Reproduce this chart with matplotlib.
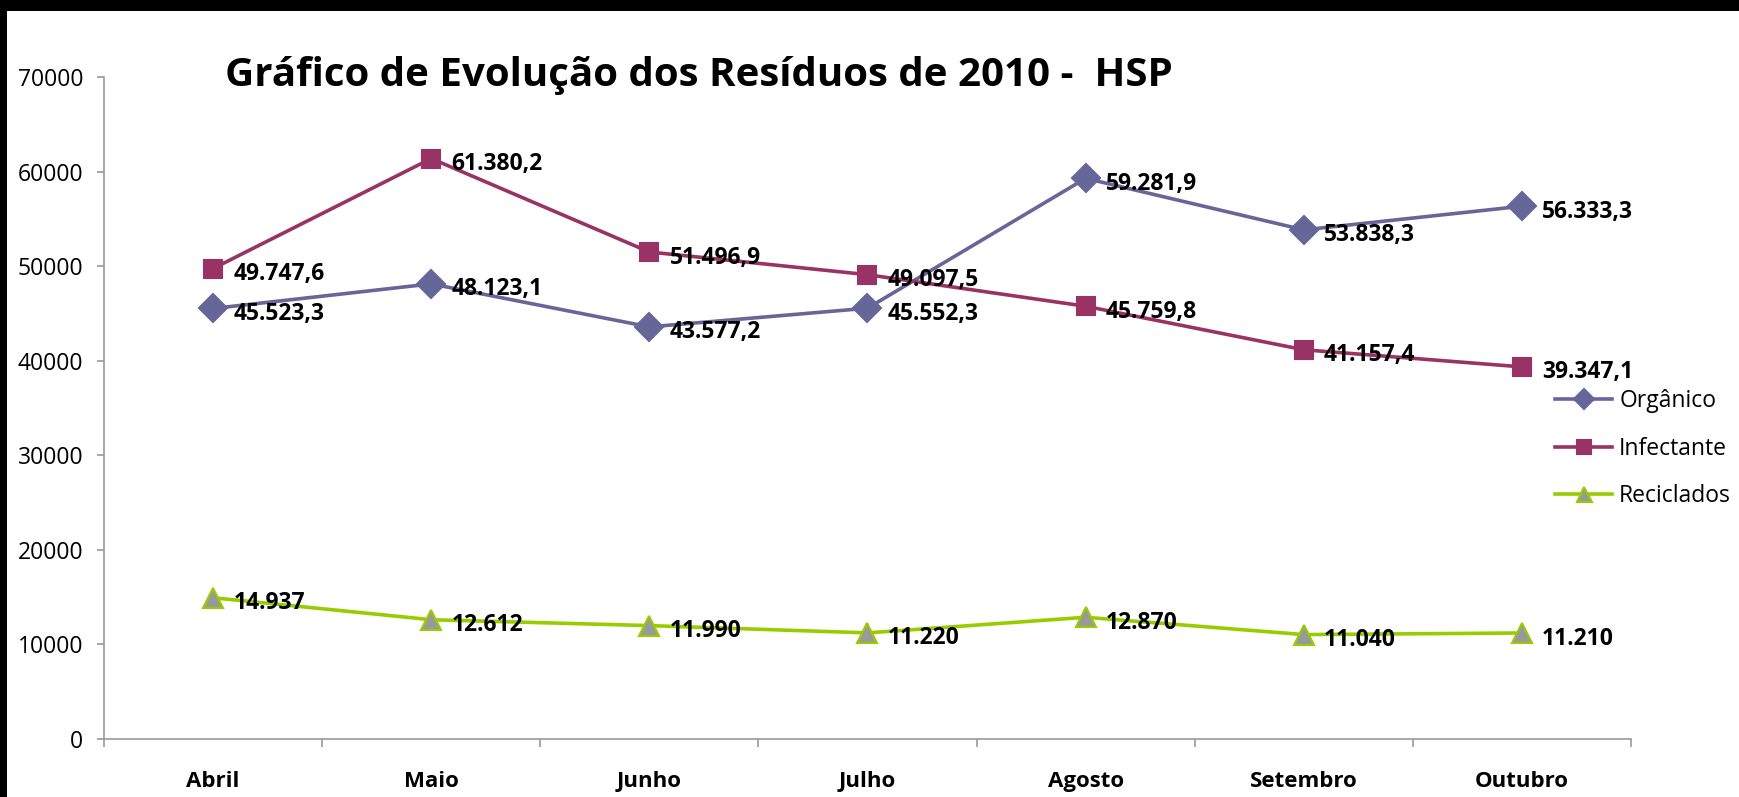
import matplotlib
matplotlib.use("Agg")
import matplotlib.pyplot as plt
from matplotlib.patches import Rectangle
from matplotlib.lines import Line2D

# ---- data ----
months = ["Abril", "Maio", "Junho", "Julho", "Agosto", "Setembro", "Outubro"]
organico = [45523.3, 48123.1, 43577.2, 45552.3, 59281.9, 53838.3, 56333.3]
infectante = [49747.6, 61380.2, 51496.9, 49097.5, 45759.8, 41157.4, 39347.1]
reciclados = [14937, 12612, 11990, 11220, 12870, 11040, 11210]
series_names = ["Orgânico", "Infectante", "Reciclados"]
yticks = [0, 10000, 20000, 30000, 40000, 50000, 60000, 70000]
title = "Gráfico de Evolução dos Resíduos de 2010 -  HSP"

FONT = "Open Sans"
plt.rcParams['font.family'] = [FONT, 'DejaVu Sans']

W, H = 1740, 797
fig = plt.figure(figsize=(W / 100, H / 100), dpi=100)
fig.patch.set_facecolor("white")

# black frame strips
fig.patches.append(Rectangle((0, 1 - 11 / H), 1, 11 / H, transform=fig.transFigure,
                             facecolor="black", edgecolor="none", zorder=0))
fig.patches.append(Rectangle((0, 0), 7 / W, 1, transform=fig.transFigure,
                             facecolor="black", edgecolor="none", zorder=0))

ax = fig.add_axes([104 / W, 1 - 739 / H, (1631 - 104) / W, (739 - 77) / H])
ax.set_facecolor("none")

x = list(range(len(months)))

def fmt(v, dec):
    s = f"{v:,.{dec}f}"
    return s.replace(",", "X").replace(".", ",").replace("X", ".")

styles = [
    dict(data=organico, color="#666699", marker="D", ms=14.5, mfc="#666699", mec="#666699", dec=1),
    dict(data=infectante, color="#993366", marker="s", ms=13.5, mfc="#993366", mec="#993366", dec=1),
    dict(data=reciclados, color="#99CC00", marker="^", ms=15, mfc="#999999", mec="#99CC00", dec=0),
]

handles = []
for name, st in zip(series_names, styles):
    ax.plot(x, st["data"], color=st["color"], lw=2.6, marker=st["marker"], ms=st["ms"],
            mfc=st["mfc"], mec=st["mec"], mew=1.5, zorder=3, clip_on=False)
    handles.append(Line2D([], [], color=st["color"], lw=2.6, marker=st["marker"],
                          ms=st["ms"] * 0.72, mfc=st["mfc"], mec=st["mec"], mew=1.5, label=name))
    for xi, v in zip(x, st["data"]):
        ax.annotate(fmt(v, st["dec"]), (xi, v), xytext=(14.5, -4), textcoords="offset points",
                    ha="left", va="center", fontsize=16.5, fontweight="bold", color="black",
                    zorder=4)

ax.set_xlim(-0.5, len(months) - 0.5)
ax.set_ylim(0, 70000)
ax.set_yticks(yticks)
ax.set_yticklabels([str(t) for t in yticks])

ax.set_xticks([i - 0.5 for i in range(len(months) + 1)])
ax.set_xticklabels([])
ax.set_xticks(x, minor=True)
ax.set_xticklabels(months, minor=True, fontweight="bold", fontsize=16)
ax.tick_params(axis="x", which="minor", length=0, pad=23)
ax.tick_params(axis="x", which="major", length=6, color="#9a9a9a", width=1.2, direction="out")
ax.tick_params(axis="y", length=5, color="#9a9a9a", width=1.2, direction="out", labelsize=16.5, pad=10)

for s in ["top", "right"]:
    ax.spines[s].set_visible(False)
for s in ["left", "bottom"]:
    ax.spines[s].set_color("#9a9a9a")
    ax.spines[s].set_linewidth(1.2)

fig.text(225 / W, 1 - 86 / H, title, ha="left", va="baseline", fontsize=29, fontweight="bold")

leg = fig.legend(handles=handles, loc="upper left", bbox_to_anchor=(1555 / W, 1 - 389 / H),
                 frameon=False, fontsize=16.5, handlelength=2.5, handletextpad=0.3,
                 labelspacing=1.03, borderaxespad=0, borderpad=0)

fig.savefig("out.png", dpi=100, facecolor="white")
